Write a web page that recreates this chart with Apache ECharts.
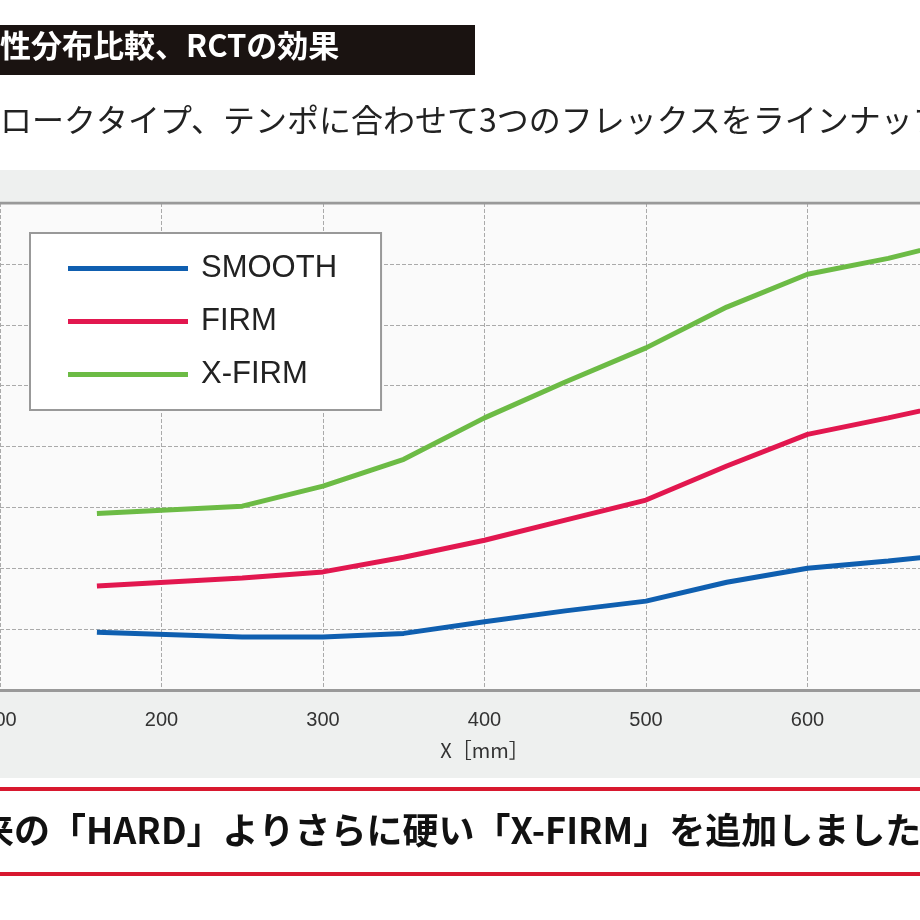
<!DOCTYPE html>
<html><head><meta charset="utf-8">
<script src="https://cdn.jsdelivr.net/npm/echarts@6/dist/echarts.min.js"></script>
<style>html,body{margin:0;padding:0;background:#fff}#main{width:920px;height:920px}</style>
</head><body><div id="main"></div>
<script>
const xValues = [160, 250, 300, 350, 400, 450, 500, 550, 600, 650, 700];
const smooth = [0.95, 0.87, 0.87, 0.93, 1.12, 1.30, 1.46, 1.77, 2.00, 2.12, 2.25];
const firm = [1.71, 1.84, 1.94, 2.18, 2.46, 2.79, 3.12, 3.68, 4.20, 4.47, 4.76];
const xFirm = [2.90, 3.02, 3.35, 3.79, 4.47, 5.06, 5.62, 6.29, 6.83, 7.09, 7.42];

const pairs = ys => xValues.map((x, i) => [x, ys[i]]);
const font = '"Noto Sans CJK JP", sans-serif';

const chart = echarts.init(document.getElementById('main'));
chart.setOption({
  animation: false,
  graphic: [
    { type: 'rect', z: -10, shape: { x: 0, y: 170, width: 920, height: 608 }, style: { fill: '#eef0ef' } },
    { type: 'rect', shape: { x: -5, y: 25, width: 480, height: 50 }, style: { fill: '#1a1311' } },
    { type: 'text', x: 0, y: 30, style: { text: '性分布比較、RCTの効果', fill: '#fff', font: 'bold 31px ' + font } },
    { type: 'text', x: 0, y: 104, style: { text: 'ロークタイプ、テンポに合わせて3つのフレックスをラインナップ', fill: '#222', font: '32px ' + font } },
    { type: 'rect', shape: { x: 0, y: 787, width: 920, height: 4 }, style: { fill: '#d8182f' } },
    { type: 'rect', shape: { x: 0, y: 872, width: 920, height: 4 }, style: { fill: '#d8182f' } },
    { type: 'text', x: -22, y: 812, style: { text: '来の「HARD」よりさらに硬い「X-FIRM」を追加しました', fill: '#111', font: 'bold 36px ' + font } }
  ],
  legend: {
    orient: 'vertical', left: 30, top: 233,
    padding: [20, 44, 20, 38], itemGap: 22,
    backgroundColor: '#fff', borderColor: '#999', borderWidth: 2,
    icon: 'rect', itemWidth: 120, itemHeight: 5,
    textStyle: { fontSize: 31, color: '#222', fontFamily: 'Liberation Sans', padding: [0, 0, 0, 8] }
  },
  grid: {
    left: 0, right: -49, top: 203, bottom: 230, outerBoundsMode: 'none',
    show: true, backgroundColor: '#fafafa', borderWidth: 0
  },
  xAxis: {
    type: 'value', min: 100, max: 700, interval: 100,
    name: 'X［mm］', nameLocation: 'middle', nameGap: 50,
    nameTextStyle: { fontSize: 20, color: '#333', fontFamily: font },
    axisLine: { show: true, lineStyle: { color: '#999', width: 3 } },
    axisTick: { show: false },
    axisLabel: { fontSize: 20, color: '#333', margin: 20, showMinLabel: true, showMaxLabel: true },
    splitLine: { show: true, lineStyle: { color: '#aaa', type: 'dashed' } }
  },
  yAxis: {
    type: 'value', min: 0, max: 8, interval: 1,
    axisLine: { show: false }, axisTick: { show: false }, axisLabel: { show: false },
    splitLine: { show: true, lineStyle: { color: '#aaa', type: 'dashed' } }
  },
  series: [
    { name: 'SMOOTH', type: 'line', data: pairs(smooth), showSymbol: false, color: '#0f5fb0', lineStyle: { width: 5 } },
    { name: 'FIRM', type: 'line', data: pairs(firm), showSymbol: false, color: '#e2174f', lineStyle: { width: 5 } },
    { name: 'X-FIRM', type: 'line', data: pairs(xFirm), showSymbol: false, color: '#6cbb45', lineStyle: { width: 5 } },
    { type: 'line', data: [[100, 8], [700, 8]], showSymbol: false, silent: true, lineStyle: { color: '#999', width: 3 }, tooltip: { show: false } }
  ]
});
</script></body></html>
